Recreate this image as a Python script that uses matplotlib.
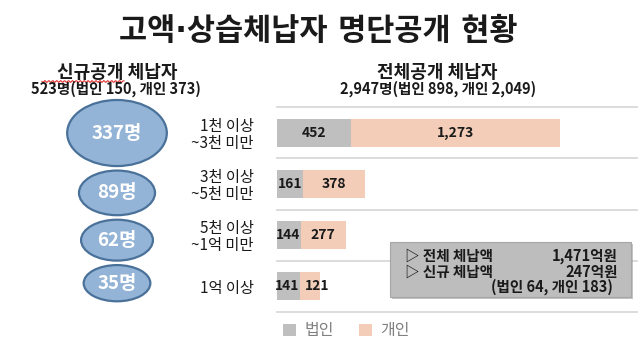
import matplotlib

matplotlib.use("Agg")
import matplotlib.pyplot as plt
import numpy as np
from matplotlib.patches import Ellipse, Rectangle

plt.rcParams["font.family"] = ["Noto Sans CJK KR", "DejaVu Sans"]

# data
categories = ["1천 이상\n~3천 미만", "3천 이상\n~5천 미만", "5천 이상\n~1억 미만", "1억 이상"]
corp_counts = [452, 161, 144, 141]        # 법인 (전체공개)
indiv_counts = [1273, 378, 277, 121]      # 개인 (전체공개)
new_counts = [337, 89, 62, 35]            # 신규공개 체납자 (명)
series_names = ["법인", "개인"]

title = "고액·상습체납자 명단공개 현황"
left_head = ["신규공개 체납자", "523명(법인 150, 개인 373)"]
right_head = ["전체공개 체납자", "2,947명(법인 898, 개인 2,049)"]
box_rows = [("▷ 전체 체납액", "1,471억원"), ("▷ 신규 체납액", "247억원")]
box_note = "(법인 64, 개인 183)"

GRAY = "#BFBFBF"
PINK = "#F3CDB8"
INK = "#1A1A1A"

W, H = 640, 358
fig = plt.figure(figsize=(W / 100, H / 100), dpi=100)
fig.patch.set_facecolor("white")

# bar panel, placed in pixel terms
top, bottom, left, right = 107, 312, 277, 637
ax = fig.add_axes([left / W, (H - bottom) / H, (right - left) / W, (bottom - top) / H], zorder=1)
y = np.arange(len(categories))
totals = np.array(corp_counts) + np.array(indiv_counts)
xmax = totals.max() * 360 / 283
ax.set_xlim(0, xmax)
ax.set_ylim(len(categories) - 0.5, -0.5)
b1 = ax.barh(y, corp_counts, height=0.55, color=GRAY, zorder=2)
b2 = ax.barh(y, indiv_counts, left=corp_counts, height=0.55, color=PINK, zorder=2)
px = xmax / 360  # data units per pixel
for i in range(len(categories)):
    c, v = corp_counts[i], indiv_counts[i]
    cx = min(c / 2, c - 13 * px)
    vx = max(c + v / 2, c + 17 * px)
    ax.text(cx, y[i], f"{c:,}", ha="center", va="center",
            fontsize=10, fontweight="bold", color=INK, zorder=3)
    ax.text(vx, y[i], f"{v:,}", ha="center", va="center",
            fontsize=10, fontweight="bold", color=INK, zorder=3)
for gy in np.arange(-0.5, len(categories), 1.0):
    ax.axhline(gy, color="#D9D9D9", lw=1.3, clip_on=False, zorder=1)
ax.set_yticks(y)
ax.set_yticklabels(categories, fontsize=11, color=INK, linespacing=1.0, fontweight="medium")
ax.tick_params(axis="y", length=0, pad=17)
ax.set_xticks([])
for s in ax.spines.values():
    s.set_visible(False)
ax.patch.set_alpha(0)
ax.legend([b1, b2], series_names, loc="upper left", bbox_to_anchor=(0.0, -0.02), ncol=2,
          frameon=False, fontsize=11.5, labelcolor="#808080", handlelength=0.8,
          handleheight=0.8, handletextpad=0.5, columnspacing=1.6, borderaxespad=0)

# overlay in pixel coordinates for headings, bubbles and note box
ov = fig.add_axes([0, 0, 1, 1], zorder=2)
ov.set_xlim(0, W)
ov.set_ylim(H, 0)
ov.axis("off")
ov.patch.set_alpha(0)

ov.text(318, 31, title, ha="center", va="center", fontsize=22, fontweight="bold", color=INK,
        family=["DejaVu Sans", "Noto Sans CJK KR"])
ov.text(117, 72, left_head[0], ha="center", va="center", fontsize=13, fontweight="bold", color=INK)
ov.text(116, 89, left_head[1], ha="center", va="center", fontsize=10.5, fontweight="bold", color=INK)
ov.text(437, 72, right_head[0], ha="center", va="center", fontsize=13, fontweight="bold", color=INK)
ov.text(438, 89, right_head[1], ha="center", va="center", fontsize=10.5, fontweight="bold", color=INK)
wx = np.linspace(42, 124, 90)
ov.plot(wx, 81.5 + 0.9 * np.sin((wx - 42) * 1.6), color="#E03030", lw=0.8)

cy = 100
for n in new_counts:
    ew = 51 + 2.65 * np.sqrt(n)
    eh = 22 + 2.4 * np.sqrt(n)
    yc = cy + eh / 2
    ov.add_patch(Ellipse((117, yc), ew, eh, facecolor="#93B4D6", edgecolor="#4A7199", lw=1.6))
    ov.text(117, yc, f"{n}명", ha="center", va="center", fontsize=13.5, fontweight="bold", color="white")
    cy += eh + 4.5

ov.add_patch(Rectangle((392, 244), 241, 55, facecolor="#8C8C8C", edgecolor="none", alpha=0.5))
ov.add_patch(Rectangle((390, 242), 241, 55, facecolor="#BDBDBD", edgecolor="#A6A6A6", lw=0.8))
for k, (lab, val) in enumerate(box_rows):
    yy = 256 + 15.5 * k
    ov.text(405, yy, lab, ha="left", va="center", fontsize=10.5, fontweight="bold", color=INK)
    ov.text(618, yy, val, ha="right", va="center", fontsize=10.5, fontweight="bold", color=INK)
ov.text(613, 287, box_note, ha="right", va="center", fontsize=10.5, fontweight="bold", color=INK)

fig.savefig("out.png", dpi=100)
